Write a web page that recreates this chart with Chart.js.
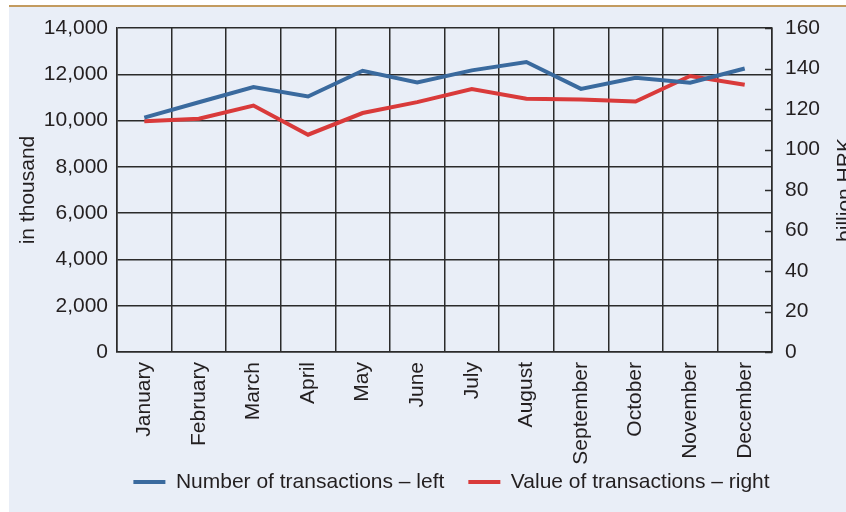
<!DOCTYPE html>
<html>
<head>
<meta charset="utf-8">
<script src="https://cdn.jsdelivr.net/npm/chart.js@4"></script>
<style>
  html, body { margin: 0; padding: 0; width: 846px; height: 512px; overflow: hidden; background: #fff; }
  #wrap { position: absolute; left: 9px; top: 5px; width: 845px; height: 505px;
          background: #e9eef7; border-top: 2px solid #c39b5f; }
  canvas { display: block; }
</style>
</head>
<body>
<div id="wrap"><canvas id="chart" width="845" height="505"></canvas></div>
<script>
// months on the x axis
const months = ['January', 'February', 'March', 'April', 'May', 'June', 'July',
  'August', 'September', 'October', 'November', 'December'];

// number of transactions, in thousand (left axis)
const txCount = [10130, 10790, 11450, 11040, 12150, 11650, 12170, 12530, 11370, 11850, 11640, 12250];

// value of transactions, billion HRK (right axis)
const txValue = [114.0, 115.2, 121.7, 107.3, 118.0, 123.4, 129.9, 125.1, 124.7, 123.7, 136.3, 132.0];

const leftTicks = [0, 2000, 4000, 6000, 8000, 10000, 12000, 14000];
const rightTicks = [0, 20, 40, 60, 80, 100, 120, 140, 160];

const BLUE = '#3a6a9e';
const RED = '#d93a3a';
const INK = '#231f20';
const GRID = '#2b2b2b';
const FONT = { family: '"Liberation Sans", Arial, sans-serif', size: 21 };

Chart.defaults.font = FONT;
Chart.defaults.color = INK;

// short tick marks drawn inside the plot on the right axis
const innerTicks = {
  id: 'innerTicks',
  afterDraw(chart) {
    const ctx = chart.ctx;
    const s = chart.scales.y2;
    const right = chart.chartArea.right;
    ctx.save();
    ctx.strokeStyle = GRID;
    ctx.lineWidth = 1.5;
    rightTicks.forEach(v => {
      const y = Math.round(s.getPixelForValue(v)) + 0.5;
      ctx.beginPath();
      ctx.moveTo(right - 7, y);
      ctx.lineTo(right, y);
      ctx.stroke();
    });
    ctx.restore();
  }
};

// right axis title reads bottom-to-top like the left one (Chart.js turns it the other way)
const rightTitle = {
  id: 'rightTitle',
  afterDraw(chart) {
    const ctx = chart.ctx;
    const s = chart.scales.y2;
    const area = chart.chartArea;
    ctx.save();
    ctx.translate(s.right - 3, (area.top + area.bottom) / 2);
    ctx.rotate(-Math.PI / 2);
    ctx.font = '21px "Liberation Sans", Arial, sans-serif';
    ctx.fillStyle = INK;
    ctx.textAlign = 'center';
    ctx.textBaseline = 'alphabetic';
    ctx.fillText('billion HRK', 0, 0);
    ctx.restore();
  }
};

// legend sits a bit right of centre and tucked up under the month labels
const shiftLegend = {
  id: 'shiftLegend',
  afterLayout(chart) {
    const lg = chart.legend;
    lg.left += 20;
    lg.right += 20;
    lg.top -= 19.5;
    lg.bottom -= 19.5;
  }
};

new Chart(document.getElementById('chart'), {
  type: 'line',
  data: {
    labels: months,
    datasets: [{
      label: 'Number of transactions \u2013 left',
      data: txCount,
      yAxisID: 'y',
      borderColor: BLUE,
      backgroundColor: BLUE,
      borderWidth: 4,
      pointRadius: 0,
      tension: 0
    }, {
      label: 'Value of transactions \u2013 right',
      data: txValue,
      yAxisID: 'y2',
      borderColor: RED,
      backgroundColor: RED,
      borderWidth: 4,
      pointRadius: 0,
      tension: 0
    }]
  },
  options: {
    responsive: false,
    animation: false,
    layout: { padding: { top: 21, left: 0, right: 0, bottom: -10 } },
    plugins: {
      tooltip: { enabled: false },
      legend: {
        position: 'bottom',
        labels: {
          boxWidth: 32,
          boxHeight: 4,
          padding: 24,
          color: INK,
          generateLabels(chart) {
            const items = Chart.defaults.plugins.legend.labels.generateLabels(chart);
            items.forEach(it => { it.lineWidth = 0; });
            return items;
          }
        }
      }
    },
    scales: {
      x: {
        offset: true,
        grid: { offset: true, color: GRID, lineWidth: 1.5, drawTicks: false },
        border: { color: GRID, width: 1.5 },
        ticks: { minRotation: 90, maxRotation: 90, padding: 10, autoSkip: false },
        afterFit(s) { s.height = 115; }
      },
      y: {
        position: 'left',
        min: 0, max: 14000,
        afterBuildTicks(s) { s.ticks = leftTicks.map(v => ({ value: v })); },
        ticks: {
          padding: 9,
          callback: v => v.toLocaleString('en-US')
        },
        grid: { color: GRID, lineWidth: 1.5, drawTicks: false },
        border: { color: GRID, width: 1.5 },
        title: { display: true, text: 'in thousand', font: FONT, color: INK, padding: { top: 7, bottom: 0 } },
        afterFit(s) { s.width = 108; s.paddingTop = 0; }
      },
      y2: {
        position: 'right',
        min: 0, max: 160,
        afterBuildTicks(s) { s.ticks = rightTicks.map(v => ({ value: v })); },
        ticks: { padding: 13 },
        grid: { drawOnChartArea: false, drawTicks: false },
        border: { color: GRID, width: 1.5 },
        afterFit(s) { s.width = 82; s.paddingTop = 0; }
      }
    }
  },
  plugins: [innerTicks, rightTitle, shiftLegend]
});
</script>
</body>
</html>
